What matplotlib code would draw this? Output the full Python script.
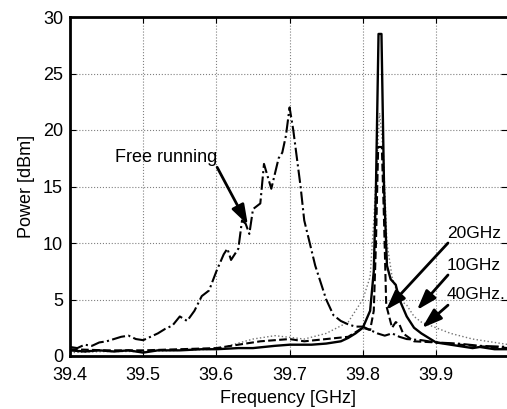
import matplotlib
matplotlib.use('Agg')
import matplotlib.pyplot as plt

plt.rcParams['font.family'] = ['Liberation Sans', 'DejaVu Sans']

# free running laser (dash-dot)
f_free = [39.40, 39.41, 39.42, 39.43, 39.44, 39.45, 39.46, 39.47, 39.48, 39.49, 39.50,
          39.51, 39.52, 39.53, 39.54, 39.55, 39.56, 39.57, 39.58, 39.59, 39.60, 39.61,
          39.615, 39.62, 39.63, 39.635, 39.64, 39.645, 39.65, 39.66, 39.665, 39.675,
          39.685, 39.69, 39.695, 39.70, 39.705, 39.715, 39.72, 39.735, 39.75, 39.76,
          39.77, 39.78, 39.79, 39.80, 39.81, 39.82, 39.83, 39.84, 39.85, 39.86, 39.88,
          39.90, 39.93, 39.96, 40.00]
p_free = [0.8, 0.7, 1.0, 0.9, 1.2, 1.3, 1.5, 1.7, 1.8, 1.5, 1.4,
          1.7, 2.0, 2.4, 2.7, 3.5, 3.1, 4.0, 5.3, 5.8, 7.5, 9.0,
          9.5, 8.5, 9.5, 12.0, 11.7, 10.8, 13.0, 13.5, 17.0, 14.8,
          17.5, 18.0, 19.5, 22.0, 20.0, 15.0, 12.0, 8.0, 5.0, 3.6,
          3.1, 2.8, 2.6, 2.6, 2.3, 2.0, 1.8, 2.0, 1.7, 1.5, 1.4,
          1.2, 1.1, 0.9, 0.8]

# locked, solid
f_solid = [39.40, 39.42, 39.44, 39.46, 39.48, 39.50, 39.52, 39.55, 39.58, 39.60,
           39.63, 39.65, 39.68, 39.70, 39.73, 39.75, 39.77, 39.78, 39.79, 39.80,
           39.81, 39.815, 39.818, 39.8215, 39.8255, 39.829, 39.833, 39.838, 39.845,
           39.85, 39.86, 39.87, 39.88, 39.89, 39.90, 39.91, 39.93, 39.95, 39.96,
           39.98, 40.00]
p_solid = [0.5, 0.4, 0.5, 0.4, 0.5, 0.3, 0.5, 0.5, 0.6, 0.6,
           0.7, 0.7, 0.9, 1.0, 1.0, 1.1, 1.3, 1.6, 2.0, 2.5,
           4.0, 7.5, 15.0, 28.5, 28.5, 15.0, 8.0, 6.8, 6.3,
           5.0, 3.5, 2.5, 2.0, 1.6, 1.2, 1.1, 0.9, 0.7, 0.8,
           0.6, 0.6]

# locked, dashed
f_dash = [39.40, 39.45, 39.50, 39.55, 39.60, 39.63, 39.66, 39.70, 39.72, 39.75,
          39.78, 39.80, 39.81, 39.815, 39.818, 39.821, 39.826, 39.829, 39.832,
          39.84, 39.845, 39.85, 39.855, 39.87, 39.90, 39.95, 40.00]
p_dash = [0.6, 0.5, 0.5, 0.6, 0.7, 1.0, 1.3, 1.5, 1.3, 1.5,
          1.7, 2.5, 2.3, 4.0, 10.0, 18.5, 18.5, 12.0, 4.5,
          2.5, 3.0, 2.8, 2.0, 1.3, 1.2, 0.9, 0.7]

# locked, dotted
f_dot = [39.40, 39.45, 39.50, 39.55, 39.60, 39.65, 39.68, 39.72, 39.75, 39.78,
         39.795, 39.80, 39.81, 39.815, 39.823, 39.828, 39.833, 39.84, 39.85,
         39.86, 39.87, 39.88, 39.90, 39.92, 39.95, 39.97, 40.00]
p_dot = [0.3, 0.4, 0.4, 0.5, 0.6, 1.5, 1.8, 1.5, 2.0, 3.0,
         4.5, 5.0, 7.0, 12.0, 21.5, 18.0, 10.0, 7.0, 5.0,
         4.5, 3.5, 3.0, 2.5, 2.0, 1.5, 1.3, 1.0]

x_ticks = [39.4, 39.5, 39.6, 39.7, 39.8, 39.9]
y_ticks = [0, 5, 10, 15, 20, 25, 30]

fig = plt.figure(figsize=(5.07, 4.09), dpi=100)
ax = fig.add_axes([70 / 507, 53 / 409, 437 / 507, 339 / 409])

ax.plot(f_dot, p_dot, color='0.45', lw=1.0, ls=':')
ax.plot(f_free, p_free, color='black', lw=1.5, ls='-.')
ax.plot(f_dash, p_dash, color='black', lw=1.5, ls='--')
ax.plot(f_solid, p_solid, color='black', lw=1.7, ls='-')

ax.set_xlim(39.4, 39.997)
ax.set_ylim(0, 30)
ax.set_xticks(x_ticks)
ax.set_yticks(y_ticks)
ax.set_xticklabels([str(v) for v in x_ticks])
ax.tick_params(direction='in', labelsize=13, right=True, top=True, length=4)
ax.tick_params(axis='x', pad=8)
ax.tick_params(axis='y', pad=5)
ax.grid(True, ls=':', color='0.5', lw=0.8)
for s in ['left', 'bottom', 'top']:
    ax.spines[s].set_linewidth(2)
ax.spines['right'].set_visible(False)

ax.set_xlabel('Frequency [GHz]', fontsize=13, labelpad=4)
ax.set_ylabel('Power [dBm]', fontsize=13, labelpad=6)

arr = dict(arrowstyle='-|>,head_length=1.2,head_width=0.4', color='black', lw=2,
           shrinkA=0, shrinkB=0)

ax.text(39.462, 17.6, 'Free running', fontsize=13, ha='left', va='center')
ax.annotate('', xy=(39.643, 11.6), xytext=(39.601, 16.7), arrowprops=arr)

ax.text(39.9150, 10.8, '20GHz', fontsize=12.5, ha='left', va='center', clip_on=False)
ax.annotate('', xy=(39.8317, 4.07), xytext=(39.9164, 10.0), arrowprops=arr)
ax.text(39.9150, 8.05, '10GHz', fontsize=12.5, ha='left', va='center', clip_on=False)
ax.annotate('', xy=(39.874, 4.07), xytext=(39.9164, 7.17), arrowprops=arr)
ax.text(39.9150, 5.4, '40GHz.', fontsize=12.5, ha='left', va='center', clip_on=False)
ax.annotate('', xy=(39.8809, 2.48), xytext=(39.9164, 4.5), arrowprops=arr)

fig.savefig('out.png', dpi=100)
